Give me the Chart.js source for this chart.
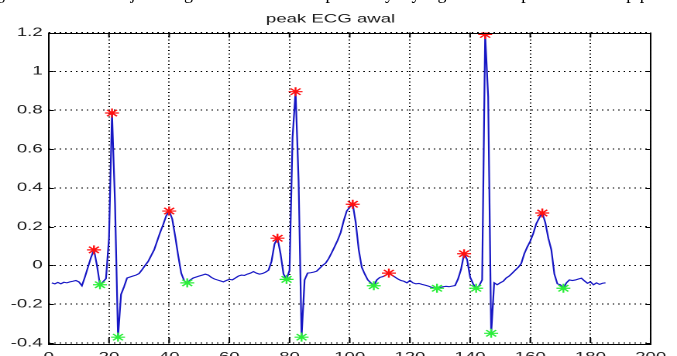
<!DOCTYPE html>
<html>
<head>
<meta charset="utf-8">
<script src="https://cdn.jsdelivr.net/npm/chart.js@4.4.1/dist/chart.umd.min.js"></script>
<style>
  html, body { margin: 0; padding: 0; background: #fff; overflow: hidden; }
  #wrap { position: relative; width: 677px; height: 356px; overflow: hidden; }
  /* gambar asli melebar secara horizontal, jadi kanvas ditarik ke samping */
  #tarik { position: absolute; left: 0; top: 0; width: 437px; height: 356px; transform: scaleX(1.5492); transform-origin: 0 0; }
  #caption { position: absolute; left: -4px; top: -17px; font-family: "Liberation Serif", serif; font-size: 18px; white-space: nowrap; color: #000; }
</style>
</head>
<body>
<div id="wrap">
  <div id="tarik"><canvas id="ecg" width="437" height="356"></canvas></div>
  <div id="caption">gambar 4.3 menunjukkan grafik hasil deteksi peak sinyal yang telah didapat untuk setiap puncak dan lembah pada sinyal ECG yang ada</div>
</div>
<script>
// sinyal ECG awal (sampel 1..185)
var sinyal = [
  -0.090, -0.095, -0.088, -0.095, -0.087, -0.090, -0.085, -0.082, -0.078, -0.085,
  -0.105, -0.060, -0.010,  0.040,  0.080,  0.000, -0.100, -0.085, -0.068,  0.140,
   0.785,  0.320, -0.370, -0.150, -0.110, -0.065, -0.060, -0.055, -0.050, -0.042,
  -0.022,  0.000,  0.020,  0.050,  0.080,  0.125,  0.170,  0.210,  0.255,  0.280,
   0.240,  0.150,  0.050, -0.040, -0.080, -0.090, -0.075, -0.065, -0.060, -0.055,
  -0.050, -0.045, -0.050, -0.062, -0.070, -0.075, -0.080, -0.085, -0.078, -0.072,
  -0.075, -0.065, -0.055, -0.050, -0.052, -0.045, -0.040, -0.032, -0.040, -0.045,
  -0.042, -0.035, -0.025,  0.020,  0.110,  0.140,  0.060, -0.045, -0.072, -0.025,
   0.660,  0.895,  0.440, -0.370, -0.075, -0.040, -0.038, -0.035, -0.030, -0.015,
   0.000,  0.012,  0.035,  0.065,  0.097,  0.130,  0.170,  0.230,  0.280,  0.300,
   0.315,  0.220,  0.080, -0.010, -0.045, -0.075, -0.090, -0.105, -0.075, -0.062,
  -0.058, -0.050, -0.040, -0.050, -0.060, -0.070, -0.078, -0.082, -0.090, -0.078,
  -0.090, -0.095, -0.093, -0.098, -0.102, -0.106, -0.112, -0.116, -0.118, -0.114,
  -0.110, -0.108, -0.110, -0.107, -0.104, -0.070, -0.020,  0.060,  0.030, -0.060,
  -0.095, -0.118, -0.105, -0.075,  1.190,  0.870, -0.350, -0.090, -0.100, -0.090,
  -0.082, -0.065, -0.055, -0.040, -0.025, -0.010,  0.010,  0.060,  0.095,  0.125,
   0.165,  0.215,  0.245,  0.270,  0.220,  0.140,  0.080, -0.045, -0.095, -0.100,
  -0.118, -0.090, -0.075, -0.078, -0.075, -0.070, -0.066, -0.080, -0.092, -0.085,
  -0.100, -0.090, -0.098, -0.092, -0.090
];
// puncak (merah) dan lembah (hijau)
var puncakX = [15, 21, 40, 76, 82, 101, 113, 138, 145, 164];
var puncakY = [0.080, 0.785, 0.280, 0.140, 0.895, 0.315, -0.040, 0.060, 1.190, 0.270];
var lembahX = [17, 23, 46, 79, 84, 108, 129, 142, 147, 171];
var lembahY = [-0.100, -0.370, -0.090, -0.072, -0.370, -0.105, -0.118, -0.118, -0.350, -0.118];
var xTicks = [0, 20, 40, 60, 80, 100, 120, 140, 160, 180, 200];
var yTicks = [-0.4, -0.2, 0, 0.2, 0.4, 0.6, 0.8, 1, 1.2];

var garis = sinyal.map(function (v, i) { return { x: i + 1, y: v }; });
var titikPuncak = puncakX.map(function (x, i) { return { x: x, y: puncakY[i] }; });
var titikLembah = lembahX.map(function (x, i) { return { x: x, y: lembahY[i] }; });

var huruf = 'Liberation Sans, Arial, Helvetica, sans-serif';

// kotak + tick ke dalam ala matlab
var kotak = {
  id: 'kotak',
  afterDraw: function (chart) {
    var c = chart.ctx, a = chart.chartArea;
    var sx = chart.scales.x, sy = chart.scales.y;
    c.save();
    c.strokeStyle = '#000';
    c.lineWidth = 1;
    c.strokeRect(a.left, Math.round(a.top) + 0.5, a.right - a.left, Math.round(a.bottom - a.top));
    c.beginPath();
    xTicks.forEach(function (t) {
      var px = sx.getPixelForValue(t);
      c.moveTo(px, a.top); c.lineTo(px, a.top + 5);
      c.moveTo(px, a.bottom); c.lineTo(px, a.bottom - 5);
    });
    yTicks.forEach(function (t) {
      var py = Math.round(sy.getPixelForValue(t)) + 0.5;
      c.moveTo(a.left, py); c.lineTo(a.left + 3.3, py);
      c.moveTo(a.right, py); c.lineTo(a.right - 3.3, py);
    });
    c.stroke();
    c.restore();
  }
};

var ctx = document.getElementById('ecg').getContext('2d');
var grafik = new Chart(ctx, {
  type: 'scatter',
  data: {
    datasets: [
      {
        label: 'puncak',
        data: titikPuncak,
        pointStyle: 'star',
        radius: 4.5,
        borderColor: '#ff1010',
        backgroundColor: '#ff1010',
        borderWidth: 1.2,
        order: 1
      },
      {
        label: 'lembah',
        data: titikLembah,
        pointStyle: 'star',
        radius: 4.5,
        borderColor: '#2bee3a',
        backgroundColor: '#2bee3a',
        borderWidth: 1.2,
        order: 1
      },
      {
        label: 'ECG',
        data: garis,
        showLine: true,
        borderColor: '#1616c4',
        borderWidth: 1.1,
        pointRadius: 0,
        tension: 0,
        order: 2
      }
    ]
  },
  options: {
    responsive: false,
    animation: false,
    devicePixelRatio: 2,
    layout: { padding: { left: 0, right: 10.3, top: 0, bottom: 0 } },
    plugins: {
      legend: { display: false },
      tooltip: { enabled: false },
      title: {
        display: true,
        text: 'peak ECG awal',
        color: '#1a1a1a',
        font: { family: huruf, size: 12, weight: 'normal' },
        padding: { top: 12, bottom: 6.1 }
      }
    },
    scales: {
      x: {
        type: 'linear',
        min: 0, max: 200,
        afterBuildTicks: function (s) { s.ticks = xTicks.map(function (v) { return { value: v }; }); },
        afterFit: function (s) { s.height = 13; },
        border: { display: false, dash: [1, 2.5] },
        grid: { color: '#000', lineWidth: 1, drawTicks: false },
        ticks: { color: '#1a1a1a', padding: 7, maxRotation: 0, font: { family: huruf, size: 12 } }
      },
      y: {
        type: 'linear',
        min: -0.4, max: 1.2,
        afterBuildTicks: function (s) { s.ticks = yTicks.map(function (v) { return { value: v }; }); },
        afterFit: function (s) { s.width = 31.5; },
        border: { display: false, dash: [1, 2.5] },
        grid: { color: '#000', lineWidth: 1, drawTicks: false },
        ticks: {
          color: '#1a1a1a', padding: 4,
          font: { family: huruf, size: 12 },
          callback: function (v) { return String(Math.round(v * 10) / 10); }
        }
      }
    }
  },
  plugins: [kotak]
});
</script>
</body>
</html>
